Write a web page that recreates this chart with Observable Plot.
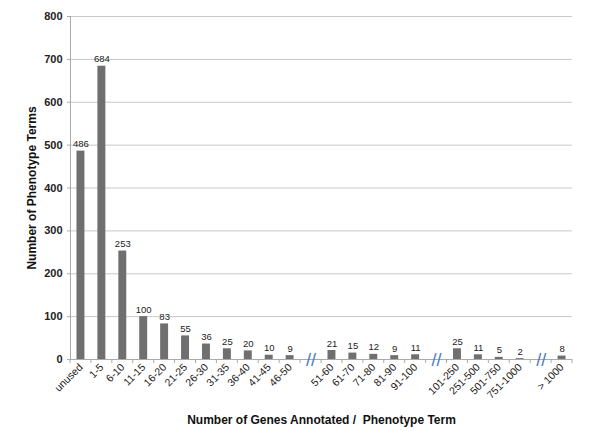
<!DOCTYPE html>
<html><head><meta charset="utf-8">
<script src="https://cdn.jsdelivr.net/npm/d3@7"></script>
<script src="https://cdn.jsdelivr.net/npm/@observablehq/plot@0.6"></script>
<style>body{margin:0;background:#fff} svg{font-family:"Liberation Sans",Arial,sans-serif}</style>
</head><body><div id="chart"></div><script>
const categories = ["unused","1-5","6-10","11-15","16-20","21-25","26-30","31-35","36-40","41-45","46-50",
  "51-60","61-70","71-80","81-90","91-100","101-250","251-500","501-750","751-1000","> 1000"];
const values = [486,684,253,100,83,55,36,25,20,10,9,21,15,12,9,11,25,11,5,2,8];
const breakAfter = ["46-50","91-100","751-1000"];
const yTicks = [0,100,200,300,400,500,600,700,800];
const yTitle = "Number of Phenotype Terms";
const xTitle = "Number of Genes Annotated /  Phenotype Term";

const slots = [];
const bars = [];
const gaps = [];
categories.forEach((c, i) => {
  const b = {key: c, label: c, value: values[i]};
  slots.push(b); bars.push(b);
  const g = breakAfter.indexOf(c);
  if (g >= 0) { const gp = {key: "gap" + g, label: ""}; slots.push(gp); gaps.push(gp); }
});
const labelOf = Object.fromEntries(slots.map(d => [d.key, d.label]));
const PI = 0.62;

const plot = Plot.plot({
  width: 600, height: 446,
  marginLeft: 70, marginRight: 28, marginTop: 16, marginBottom: 87,
  x: {domain: slots.map(d => d.key), paddingInner: PI, paddingOuter: PI / 2, round: false},
  y: {domain: [0, 800]},
  marks: [
    Plot.gridY(yTicks, {stroke: "#c8c8c8", strokeOpacity: 1}),
    Plot.axisY(yTicks, {tickSize: 3, tickPadding: 5, stroke: "#aaa", fill: "#222", fontWeight: "bold", fontSize: 11, label: null}),
    Plot.axisX({tickSize: 0, tickRotate: -45, tickPadding: 6, tickFormat: k => labelOf[k], fill: "#222", fontSize: 10.5, label: null}),
    Plot.ruleY([0], {stroke: "#aaa"}),
    Plot.frame({anchor: "left", stroke: "#aaa"}),
    Plot.barY(bars, {x: "key", y: "value", fill: "#6f6f6f"}),
    Plot.text(bars, {x: "key", y: "value", text: d => String(d.value), dy: -7, fontSize: 9.5, fill: "#222"}),
    Plot.text(gaps, {x: "key", y: 0, text: () => "//", fill: "#4a7cc4", fontSize: 18, dy: 1}),
    Plot.text([yTitle], {frameAnchor: "left", textAnchor: "middle", rotate: -90, dx: -38, fontWeight: "bold", fontSize: 12, fill: "#111"}),
    Plot.text([xTitle], {frameAnchor: "bottom", dy: 64, fontWeight: "bold", fontSize: 12, fill: "#111"})
  ]
});

// boundary tick marks between category slots, from the x scale
const sx = plot.scale("x");
const y0 = plot.scale("y").apply(0);
const gapW = sx.step - sx.bandwidth;
const bounds = slots.map(d => sx.apply(d.key) - gapW / 2);
bounds.push(sx.apply(slots[slots.length - 1].key) + sx.bandwidth + gapW / 2);
d3.select(plot).append("g").attr("stroke", "#aaa")
  .selectAll("line").data(bounds).join("line")
  .attr("x1", d => d).attr("x2", d => d).attr("y1", y0).attr("y2", y0 + 4);

document.getElementById("chart").appendChild(plot);
</script></body></html>
